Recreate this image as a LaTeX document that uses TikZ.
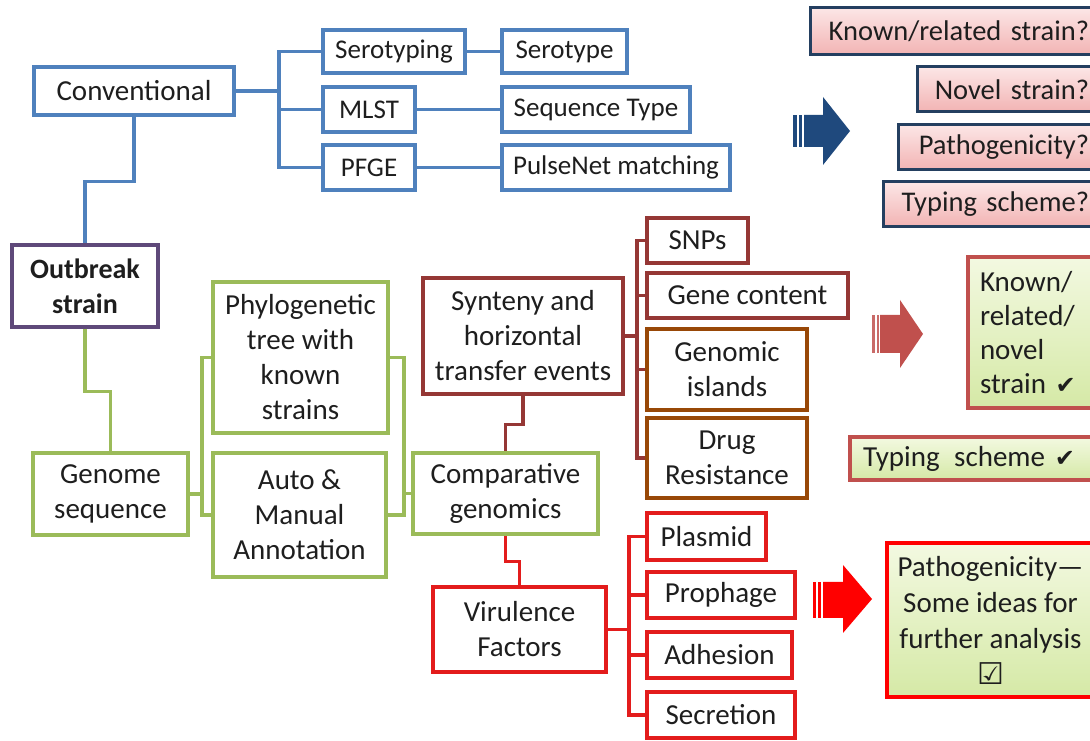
\documentclass[tikz,border=0pt]{standalone}
\usepackage{fontspec}
\setmainfont{Carlito}
\newfontfamily\symfont{DejaVu Sans}
\usetikzlibrary{calc}

\definecolor{cblue}{HTML}{4F81BD}
\definecolor{cpurple}{HTML}{5F497A}
\definecolor{cgreen}{HTML}{9BBB59}
\definecolor{cdred}{HTML}{953735}
\definecolor{cbrown}{HTML}{984807}
\definecolor{cred}{HTML}{E31C1C}
\definecolor{cnavy}{HTML}{1F497D}
\definecolor{cmred}{HTML}{C0504D}
\definecolor{ctext}{HTML}{1E1E1E}
\definecolor{pinktop}{HTML}{FCE6E6}
\definecolor{pinkbot}{HTML}{F2B3B3}
\definecolor{gtop}{HTML}{F3F9E1}
\definecolor{gbot}{HTML}{D5E9A6}
\definecolor{qborder}{HTML}{243F60}
\definecolor{kborder}{HTML}{C0504D}

\begin{document}
\begin{tikzpicture}[x=1pt,y=1pt,
  box/.style={draw=#1, line width=3.5pt, fill=white, inner sep=0pt, align=center,
    text=ctext, font=\fontsize{29}{35}\selectfont},
  wh/.style 2 args={minimum width=#1pt, minimum height=#2pt},
  link/.style={draw=#1, line width=3.5pt},
  small/.style={font=\fontsize{27}{33}\selectfont},
  qbox/.style={draw=qborder, line width=3pt, top color=pinktop, bottom color=pinkbot,
    inner sep=0pt, align=right, text=ctext, font=\fontsize{28.5}{35}\selectfont},
  gbox/.style={draw=#1, line width=3.5pt, top color=gtop, bottom color=gbot,
    inner sep=0pt, text=ctext, font=\fontsize{29}{34}\selectfont}]
\useasboundingbox (0,0) rectangle (1090,741);
\clip (0,0) rectangle (1090,741);
\fill[white] (0,0) rectangle (1090,741);

% ---- blue (conventional) ----
\node[box=cblue, wh={200}{48}] (conv) at (134,650) {Conventional};
\node[box=cblue, wh={142}{43}, small] (sero) at (394,689.5) {Serotyping};
\node[box=cblue, wh={92}{45}, small] (mlst) at (369,631.5) {MLST};
\node[box=cblue, wh={92}{45}, small] (pfge) at (369,573.5) {PFGE};
\node[box=cblue, wh={125}{43}, small] (serotype) at (564.5,689.5) {Serotype};
\node[box=cblue, wh={188}{45}, small] (seqtype) at (596,631.5) {Sequence Type};
\node[box=cblue, wh={228}{45}, small] (pulse) at (616,573.5) {PulseNet matching};

% ---- purple ----
\node[box=cpurple, wh={146}{82}, font=\fontsize{28}{35}\selectfont\bfseries] (out) at (85,455) {Outbreak\\strain};

% ---- green ----
\node[box=cgreen, wh={155}{82}] (genome) at (110.5,247) {Genome\\sequence};
\node[box=cgreen, wh={175}{151}] (phylo) at (300.5,383.5) {Phylogenetic\\tree with\\known\\strains};
\node[box=cgreen, wh={173}{124}] (auto) at (299.5,226) {Auto \&\\Manual\\Annotation};
\node[box=cgreen, wh={185}{81}] (comp) at (505.5,247.5) {Comparative\\genomics};

% ---- dark red / brown ----
\node[box=cdred, wh={200}{116}] (synt) at (523,405) {Synteny and\\horizontal\\transfer events};
\node[box=cdred, wh={101}{45}] (snps) at (697.5,500.5) {SNPs};
\node[box=cdred, wh={201}{45}] (gene) at (747.5,445.5) {Gene content};
\node[box=cbrown, wh={160}{81}] (islands) at (727,371.5) {Genomic\\islands};
\node[box=cbrown, wh={160}{80}] (drug) at (727,283) {Drug\\Resistance};

% ---- red ----
\node[box=cred, wh={173}{85}] (vir) at (519.5,111.5) {Virulence\\Factors};
\node[box=cred, wh={119}{47}] (plasmid) at (706.5,204.5) {Plasmid};
\node[box=cred, wh={148}{46}] (prophage) at (721,146) {Prophage};
\node[box=cred, wh={145}{46}] (adhesion) at (719.5,86) {Adhesion};
\node[box=cred, wh={148}{46}] (secretion) at (721,26) {Secretion};

% ---- connectors: blue ----
\coordinate (cb) at ($(conv.east)+(43,0)$);
\draw[link=cblue] (conv.east) -- (cb);
\draw[link=cblue] (sero.west) -| (cb) |- (pfge.west);
\draw[link=cblue] (mlst.west) -- (mlst.west -| cb);
\draw[link=cblue] (sero.east) -- (serotype.west);
\draw[link=cblue] (mlst.east) -- (seqtype.west);
\draw[link=cblue] (pfge.east) -- (pulse.west);
\draw[link=cblue] (conv.south) -- ++(0,-65) -| (out.north);

% ---- connectors: green ----
\draw[link=cgreen] (out.south) -- ++(0,-63) -| (genome.north);
\coordinate (gb) at ($(genome.east)+(12,0)$);
\draw[link=cgreen] (genome.east) -- (gb);
\draw[link=cgreen] (phylo.west) -| (gb) |- (auto.west);
\coordinate (pb) at ($(phylo.east)+(14,0)$);
\draw[link=cgreen] (phylo.east) -- (pb) |- (auto.east);
\draw[link=cgreen] (comp.west) -- (comp.west -| pb);

% ---- connectors: dark red ----
\draw[link=cdred] (synt.south) -- ++(0,-29) -| (comp.north);
\coordinate (sb) at ($(synt.east)+(12,0)$);
\draw[link=cdred] (synt.east) -- (sb);
\draw[link=cdred] (snps.west) -| (sb) |- (drug.west);
\draw[link=cdred] (gene.west) -- (gene.west -| sb);
\draw[link=cdred] (islands.west) -- (islands.west -| sb);

% ---- connectors: red ----
\draw[link=cred] (comp.south) -- ++(0,-26) -| (vir.north);
\coordinate (vb) at ($(vir.east)+(21,0)$);
\draw[link=cred] (vir.east) -- (vb);
\draw[link=cred] (plasmid.west) -| (vb) |- (secretion.west);
\draw[link=cred] (prophage.west) -- (prophage.west -| vb);
\draw[link=cred] (adhesion.west) -- (adhesion.west -| vb);

% ---- block arrows ----
\fill[cnavy] (793,594) rectangle (797,626);
\fill[cnavy] (799,594) rectangle (802,626);
\fill[cnavy] (804,594) -- (823,594) -- (823,576) -- (850,610) -- (823,644) -- (823,626) -- (804,626) -- cycle;

\fill[cmred!85] (872,388) rectangle (875,426);
\fill[cmred!85] (876.5,388) rectangle (879,426);
\fill[cmred] (880,388) -- (900,388) -- (900,373) -- (923,407) -- (900,441) -- (900,426) -- (880,426) -- cycle;

\fill[red] (813,123) rectangle (816,159);
\fill[red] (818,123) rectangle (821,159);
\fill[red] (823,123) -- (843,123) -- (843,108) -- (872,142) -- (843,176) -- (843,159) -- (823,159) -- cycle;

% ---- questions ----
\node[qbox, wh={290}{47}, text width=268pt] (q1) at (955,709.5) {Known/related strain?};
\node[qbox, wh={183}{45}, text width=161pt] (q2) at (1008.5,651.5) {Novel strain?};
\node[qbox, wh={202}{45}, text width=180pt] (q3) at (999,593.5) {Pathogenicity?};
\node[qbox, wh={217}{45}, text width=195pt] (q4) at (991.5,536.5) {Typing scheme?};

% ---- answers ----
\node[gbox=kborder, wh={132}{151}, text width=108pt, align=left] (known) at (1034,408.5)
  {Known/\\related/\\novel\\strain {\symfont\fontsize{24}{34}\selectfont ✔}};
\node[gbox=kborder, wh={250}{43}, text width=224pt, align=left] (typing) at (975,282.5)
  {Typing\, scheme {\symfont\fontsize{24}{34}\selectfont ✔}};
\node[gbox=red, wh={207}{154}, align=center, font=\fontsize{29}{36}\selectfont] (patho) at (990.5,121)
  {Pathogenicity—\\Some ideas for\\further analysis\\{\symfont\bfseries\fontsize{30}{36}\selectfont ☑}};
\end{tikzpicture}
\end{document}
